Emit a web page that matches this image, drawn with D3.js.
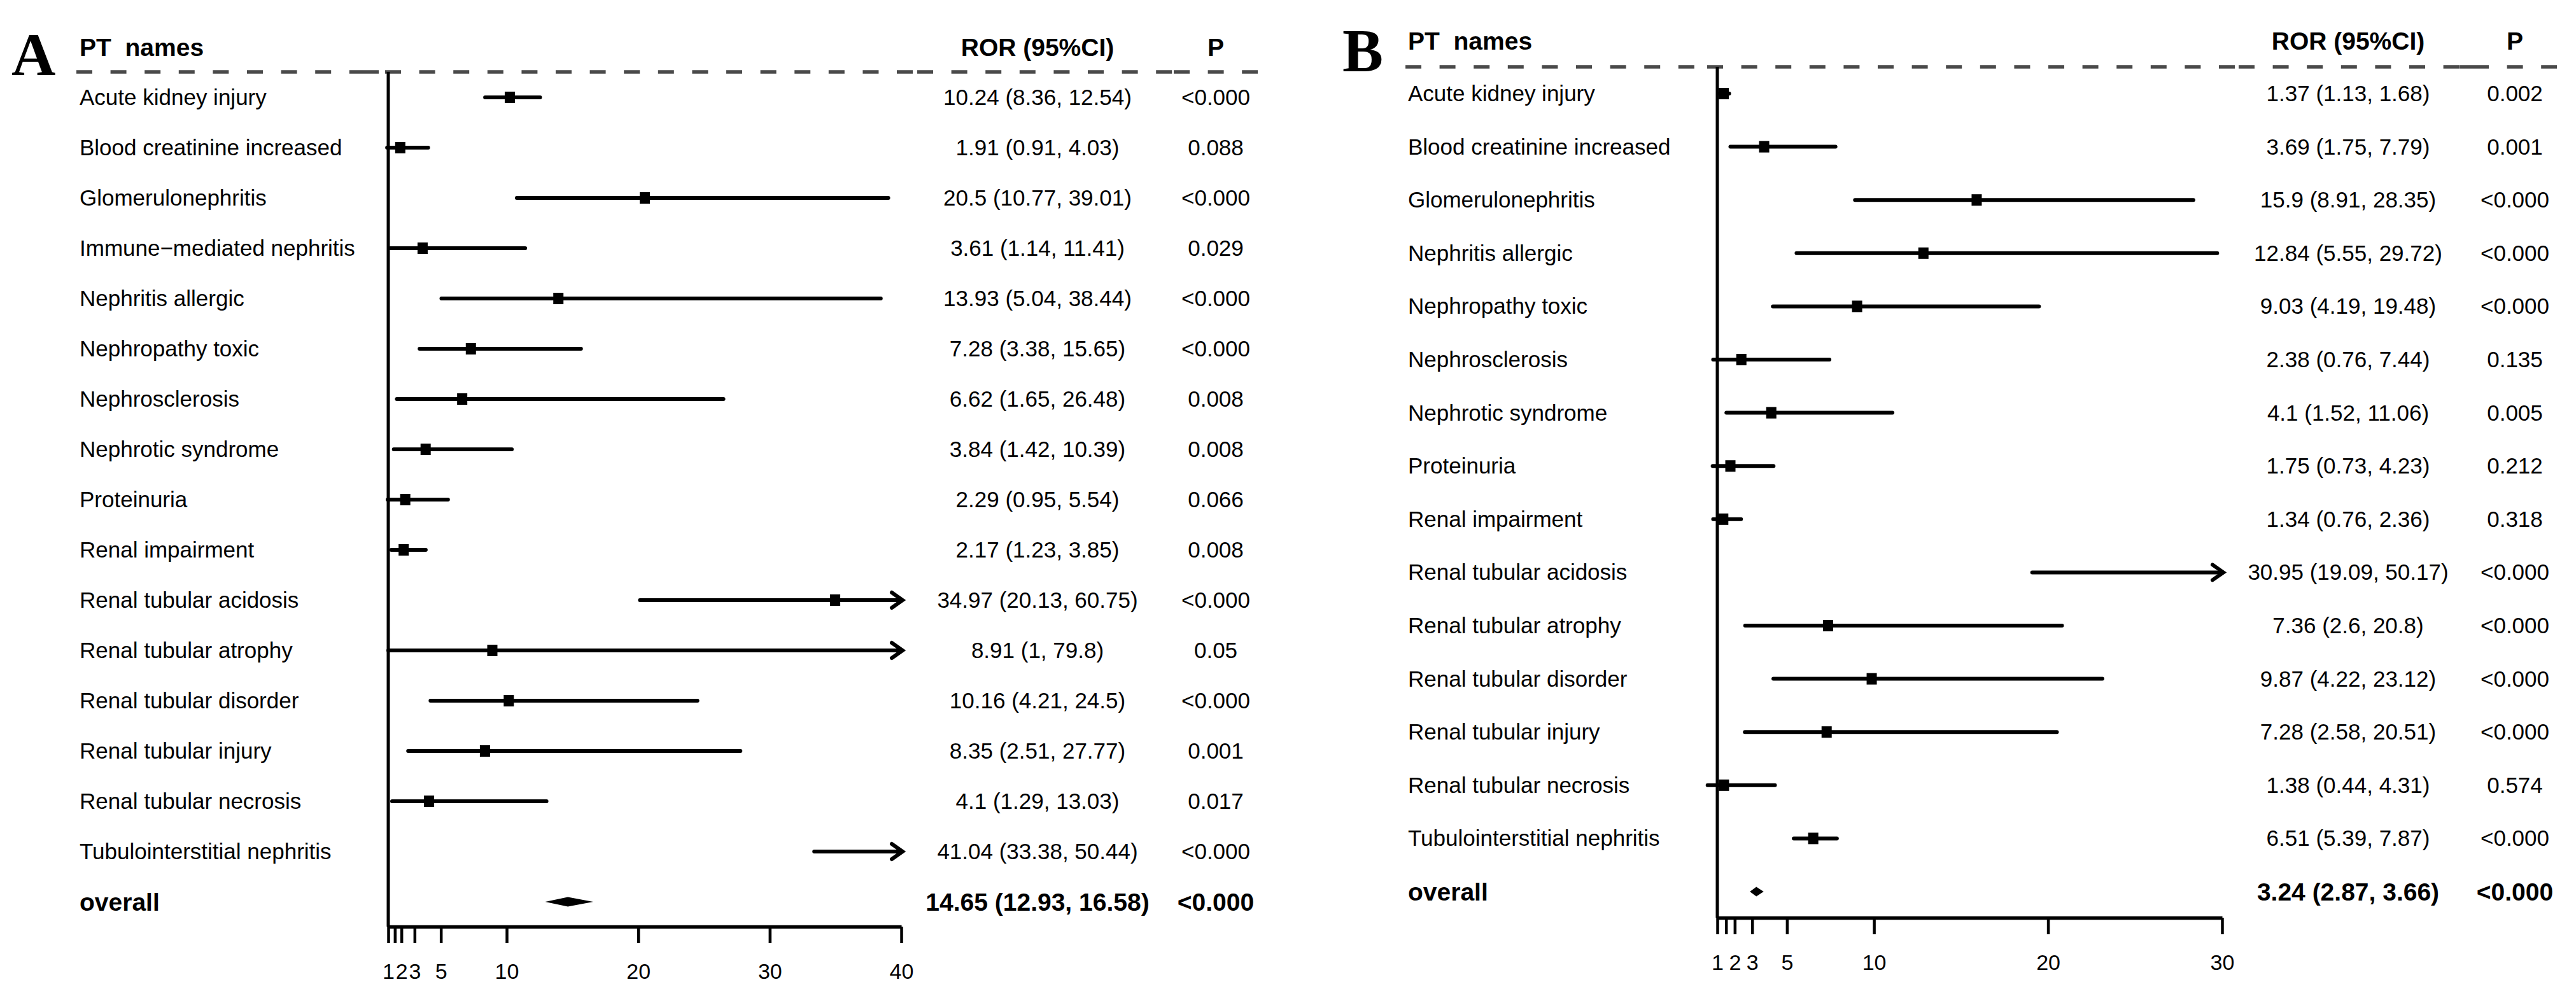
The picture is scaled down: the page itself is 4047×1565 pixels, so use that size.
<!DOCTYPE html>
<html>
<head>
<meta charset="utf-8">
<script src="https://cdn.jsdelivr.net/npm/d3@7"></script>
<style>
  html, body { margin: 0; padding: 0; background: #ffffff; }
  svg text { font-family: "Liberation Sans", Arial, Helvetica, sans-serif; fill: #000; white-space: pre; }
</style>
</head>
<body>
<svg id="chart" width="4047" height="1565"></svg>
<script>
// ---------------- DATA ----------------
// Panel A
const namesA = ["Acute kidney injury", "Blood creatinine increased", "Glomerulonephritis",
  "Immune\u2212mediated nephritis", "Nephritis allergic", "Nephropathy toxic", "Nephrosclerosis",
  "Nephrotic syndrome", "Proteinuria", "Renal impairment", "Renal tubular acidosis",
  "Renal tubular atrophy", "Renal tubular disorder", "Renal tubular injury",
  "Renal tubular necrosis", "Tubulointerstitial nephritis"];
const rorA  = [10.24, 1.91, 20.5, 3.61, 13.93, 7.28, 6.62, 3.84, 2.29, 2.17, 34.97, 8.91, 10.16, 8.35, 4.1, 41.04];
const lowA  = [8.36, 0.91, 10.77, 1.14, 5.04, 3.38, 1.65, 1.42, 0.95, 1.23, 20.13, 1, 4.21, 2.51, 1.29, 33.38];
const highA = [12.54, 4.03, 39.01, 11.41, 38.44, 15.65, 26.48, 10.39, 5.54, 3.85, 60.75, 79.8, 24.5, 27.77, 13.03, 50.44];
const pA    = ["<0.000", "0.088", "<0.000", "0.029", "<0.000", "<0.000", "0.008", "0.008", "0.066",
  "0.008", "<0.000", "0.05", "<0.000", "0.001", "0.017", "<0.000"];
const overallA  = [14.65, 12.93, 16.58];
const overallPA = "<0.000";
const ticksA = [1, 1.5, 2, 3, 5, 10, 20, 30, 40];
const tickLabelsA = ["1", "", "2", "3", "5", "10", "20", "30", "40"];

// Panel B
const namesB = ["Acute kidney injury", "Blood creatinine increased", "Glomerulonephritis",
  "Nephritis allergic", "Nephropathy toxic", "Nephrosclerosis", "Nephrotic syndrome",
  "Proteinuria", "Renal impairment", "Renal tubular acidosis", "Renal tubular atrophy",
  "Renal tubular disorder", "Renal tubular injury", "Renal tubular necrosis",
  "Tubulointerstitial nephritis"];
const rorB  = [1.37, 3.69, 15.9, 12.84, 9.03, 2.38, 4.1, 1.75, 1.34, 30.95, 7.36, 9.87, 7.28, 1.38, 6.51];
const lowB  = [1.13, 1.75, 8.91, 5.55, 4.19, 0.76, 1.52, 0.73, 0.76, 19.09, 2.6, 4.22, 2.58, 0.44, 5.39];
const highB = [1.68, 7.79, 28.35, 29.72, 19.48, 7.44, 11.06, 4.23, 2.36, 50.17, 20.8, 23.12, 20.51, 4.31, 7.87];
const pB    = ["0.002", "0.001", "<0.000", "<0.000", "<0.000", "0.135", "0.005", "0.212", "0.318",
  "<0.000", "<0.000", "<0.000", "<0.000", "0.574", "<0.000"];
const overallB  = [3.24, 2.87, 3.66];
const overallPB = "<0.000";
const ticksB = [1, 1.5, 2, 3, 5, 10, 20, 30];
const tickLabelsB = ["1", "", "2", "3", "5", "10", "20", "30"];

// ---------------- LAYOUT ----------------
const panels = [
  { label: "A", labelX: 18, labelY: 118, textX: 125, headerY: 88, dashY: 113,
    row0: 153, rowStep: 79, xRange: [610, 1416], xDomain: [1, 40], axisY: 1456,
    rorX: 1630, pX: 1910, segs: [120, 570, 605, 1441, 1844, 1976],
    names: namesA, ror: rorA, low: lowA, high: highA, p: pA,
    overall: overallA, overallP: overallPA, ticks: ticksA, tickLabels: tickLabelsA },
  { label: "B", labelX: 2109, labelY: 112, textX: 2212, headerY: 78, dashY: 105,
    row0: 147, rowStep: 83.6, xRange: [2698, 3491], xDomain: [1, 30], axisY: 1442,
    rorX: 3689, pX: 3951, segs: [2208, 2682, 3517, 3864, 3885, 4017],
    names: namesB, ror: rorB, low: lowB, high: highB, p: pB,
    overall: overallB, overallP: overallPB, ticks: ticksB, tickLabels: tickLabelsB }
];

const svg = d3.select("#chart");
svg.append("rect").attr("width", 4047).attr("height", 1565).attr("fill", "#fff");

const FS = 35, FSB = 39;

panels.forEach(P => {
  const g = svg.append("g");
  const n = P.names.length;
  const x = d3.scaleLinear().domain(P.xDomain).range(P.xRange);
  const y = d3.scaleLinear().domain([0, n]).range([P.row0, P.row0 + n * P.rowStep]);
  const xMax = P.xDomain[1];

  // panel letter
  g.append("text").attr("x", P.labelX).attr("y", P.labelY)
    .style("font-family", "'Liberation Serif', 'Times New Roman', serif")
    .style("font-weight", "bold").style("font-size", "96px").text(P.label);

  // headers
  g.append("text").attr("x", P.textX).attr("y", P.headerY)
    .style("font-weight", "bold").style("font-size", FSB + "px").text("PT  names");
  g.append("text").attr("x", P.rorX).attr("y", P.headerY).attr("text-anchor", "middle")
    .style("font-weight", "bold").style("font-size", FSB + "px").text("ROR (95%CI)");
  g.append("text").attr("x", P.pX).attr("y", P.headerY).attr("text-anchor", "middle")
    .style("font-weight", "bold").style("font-size", FSB + "px").text("P");

  // dashed header line (drawn per column segment)
  const segPairs = d3.pairs(P.segs);
  g.selectAll("line.dash").data(segPairs).join("line").attr("class", "dash")
    .attr("x1", d => d[0]).attr("x2", d => d[1])
    .attr("y1", P.dashY).attr("y2", P.dashY)
    .attr("stroke", "#4a4a4a").attr("stroke-width", 5.5)
    .attr("stroke-dasharray", "25 28.6");

  // vertical reference line at 1
  g.append("line").attr("x1", x(1)).attr("x2", x(1))
    .attr("y1", P.dashY).attr("y2", P.axisY)
    .attr("stroke", "#000").attr("stroke-width", 5);

  // x axis
  const axis = d3.axisBottom(x).tickValues(P.ticks)
    .tickFormat((d, i) => P.tickLabels[i]).tickSize(26).tickSizeOuter(0).tickPadding(32);
  const ax = g.append("g").attr("transform", `translate(0,${P.axisY})`).call(axis);
  ax.select(".domain").attr("stroke", "#000").attr("stroke-width", 5.5);
  ax.selectAll(".tick line").attr("stroke", "#000").attr("stroke-width", 4.5);
  ax.selectAll(".tick text").style("font-family", "'Liberation Sans', Arial, sans-serif")
    .style("font-size", "34px").attr("fill", "#000");

  // rows
  const rows = d3.range(n).map(i => ({
    name: P.names[i], est: P.ror[i], lo: P.low[i], hi: P.high[i], p: P.p[i], yy: y(i)
  }));

  g.selectAll("text.name").data(rows).join("text").attr("class", "name")
    .attr("x", P.textX).attr("y", d => d.yy + 12)
    .style("font-size", FS + "px").text(d => d.name);
  g.selectAll("text.ror").data(rows).join("text").attr("class", "ror")
    .attr("x", P.rorX).attr("y", d => d.yy + 12).attr("text-anchor", "middle")
    .style("font-size", FS + "px").text(d => `${d.est} (${d.lo}, ${d.hi})`);
  g.selectAll("text.pv").data(rows).join("text").attr("class", "pv")
    .attr("x", P.pX).attr("y", d => d.yy + 12).attr("text-anchor", "middle")
    .style("font-size", FS + "px").text(d => d.p);

  // CI lines
  g.selectAll("line.ci").data(rows).join("line").attr("class", "ci")
    .attr("x1", d => x(d.lo)).attr("x2", d => x(Math.min(d.hi, xMax)))
    .attr("y1", d => d.yy).attr("y2", d => d.yy)
    .attr("stroke", "#000").attr("stroke-width", 6).attr("stroke-linecap", "round");

  // arrows for truncated CI
  g.selectAll("path.arrow").data(rows.filter(d => d.hi > xMax)).join("path").attr("class", "arrow")
    .attr("d", d => {
      const tx = x(xMax) + 2;
      return `M${tx - 17},${d.yy - 12} L${tx},${d.yy} L${tx - 17},${d.yy + 12}`;
    })
    .attr("fill", "none").attr("stroke", "#000").attr("stroke-width", 6)
    .attr("stroke-linejoin", "miter").attr("stroke-linecap", "round");

  // boxes
  g.selectAll("rect.box").data(rows.filter(d => d.est <= xMax)).join("rect").attr("class", "box")
    .attr("x", d => x(d.est) - 8).attr("y", d => d.yy - 9)
    .attr("width", 16).attr("height", 18).attr("fill", "#000");

  // overall row
  const oy = y(n);
  const [oe, ol, oh] = P.overall;
  g.append("text").attr("x", P.textX).attr("y", oy + 14)
    .style("font-weight", "bold").style("font-size", FSB + "px").text("overall");
  g.append("text").attr("x", P.rorX).attr("y", oy + 14).attr("text-anchor", "middle")
    .style("font-weight", "bold").style("font-size", FSB + "px").text(`${oe} (${ol}, ${oh})`);
  g.append("text").attr("x", P.pX).attr("y", oy + 14).attr("text-anchor", "middle")
    .style("font-weight", "bold").style("font-size", FSB + "px").text(P.overallP);
  g.append("path")
    .attr("d", `M${x(ol)},${oy} L${x(oe)},${oy - 7.5} L${x(oh)},${oy} L${x(oe)},${oy + 7.5} Z`)
    .attr("fill", "#000");
});
</script>
</body>
</html>
